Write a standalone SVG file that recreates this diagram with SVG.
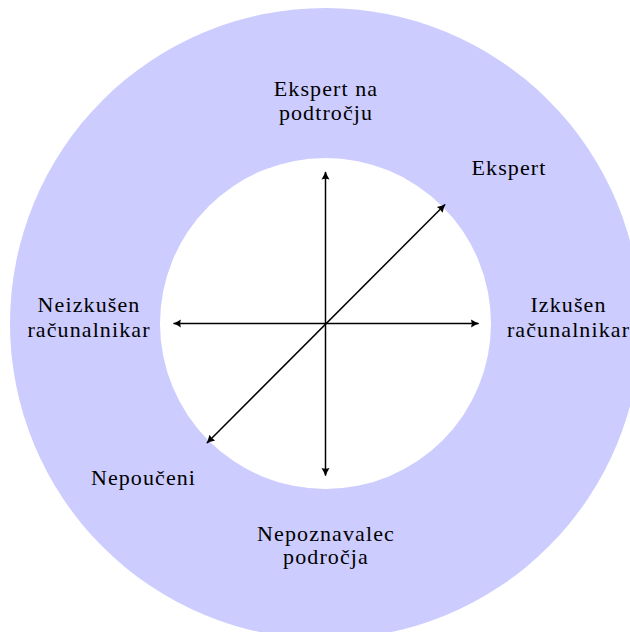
<svg xmlns="http://www.w3.org/2000/svg" width="630" height="632" viewBox="0 0 630 632">
  <style>
    .axis { stroke: #000; stroke-width: 1.5; fill: none; marker-start: url(#tip); marker-end: url(#tip); }
    .lbl { font-family: 'Liberation Serif', 'DejaVu Serif', serif; font-size: 22px; fill: #000; text-anchor: middle; letter-spacing: 1.1px; }
  </style>
  <defs>
    <marker id="tip" markerUnits="userSpaceOnUse" viewBox="-9 -5 10 10" refX="0" refY="0" markerWidth="10" markerHeight="10" orient="auto-start-reverse">
      <path d="M0.8,0 Q-3,-1.2 -7.5,-4 Q-6,0 -7.5,4 Q-3,1.2 0.8,0 Z" fill="#000"/>
    </marker>
  </defs>

  <!-- background ring -->
  <g id="ring">
    <circle cx="325.5" cy="323.5" r="315.5" fill="#ccccff"/>
    <circle cx="325.5" cy="323.5" r="165.5" fill="#ffffff"/>
  </g>

  <!-- axes -->
  <g id="connectors">
    <line class="axis" x1="173.5" y1="323.5" x2="478.5" y2="323.5"/>
    <line class="axis" x1="325.5" y1="475.5" x2="325.5" y2="172"/>
    <line class="axis" x1="207" y1="443" x2="445" y2="204.5"/>
  </g>

  <g id="domain-expert">
    <text class="lbl" x="326" y="96">Ekspert na</text>
    <text class="lbl" x="326" y="120">podtročju</text>
  </g>
  <g id="expert">
    <text class="lbl" x="509" y="175">Ekspert</text>
  </g>
  <g id="novice-user">
    <text class="lbl" x="89" y="312">Neizkušen</text>
    <text class="lbl" x="89" y="337">računalnikar</text>
  </g>
  <g id="skilled-user">
    <text class="lbl" x="568.5" y="312">Izkušen</text>
    <text class="lbl" x="568.5" y="337">računalnikar</text>
  </g>
  <g id="uninformed">
    <text class="lbl" x="143.5" y="485">Nepoučeni</text>
  </g>
  <g id="domain-novice">
    <text class="lbl" x="326" y="541">Nepoznavalec</text>
    <text class="lbl" x="326" y="564">področja</text>
  </g>
</svg>
